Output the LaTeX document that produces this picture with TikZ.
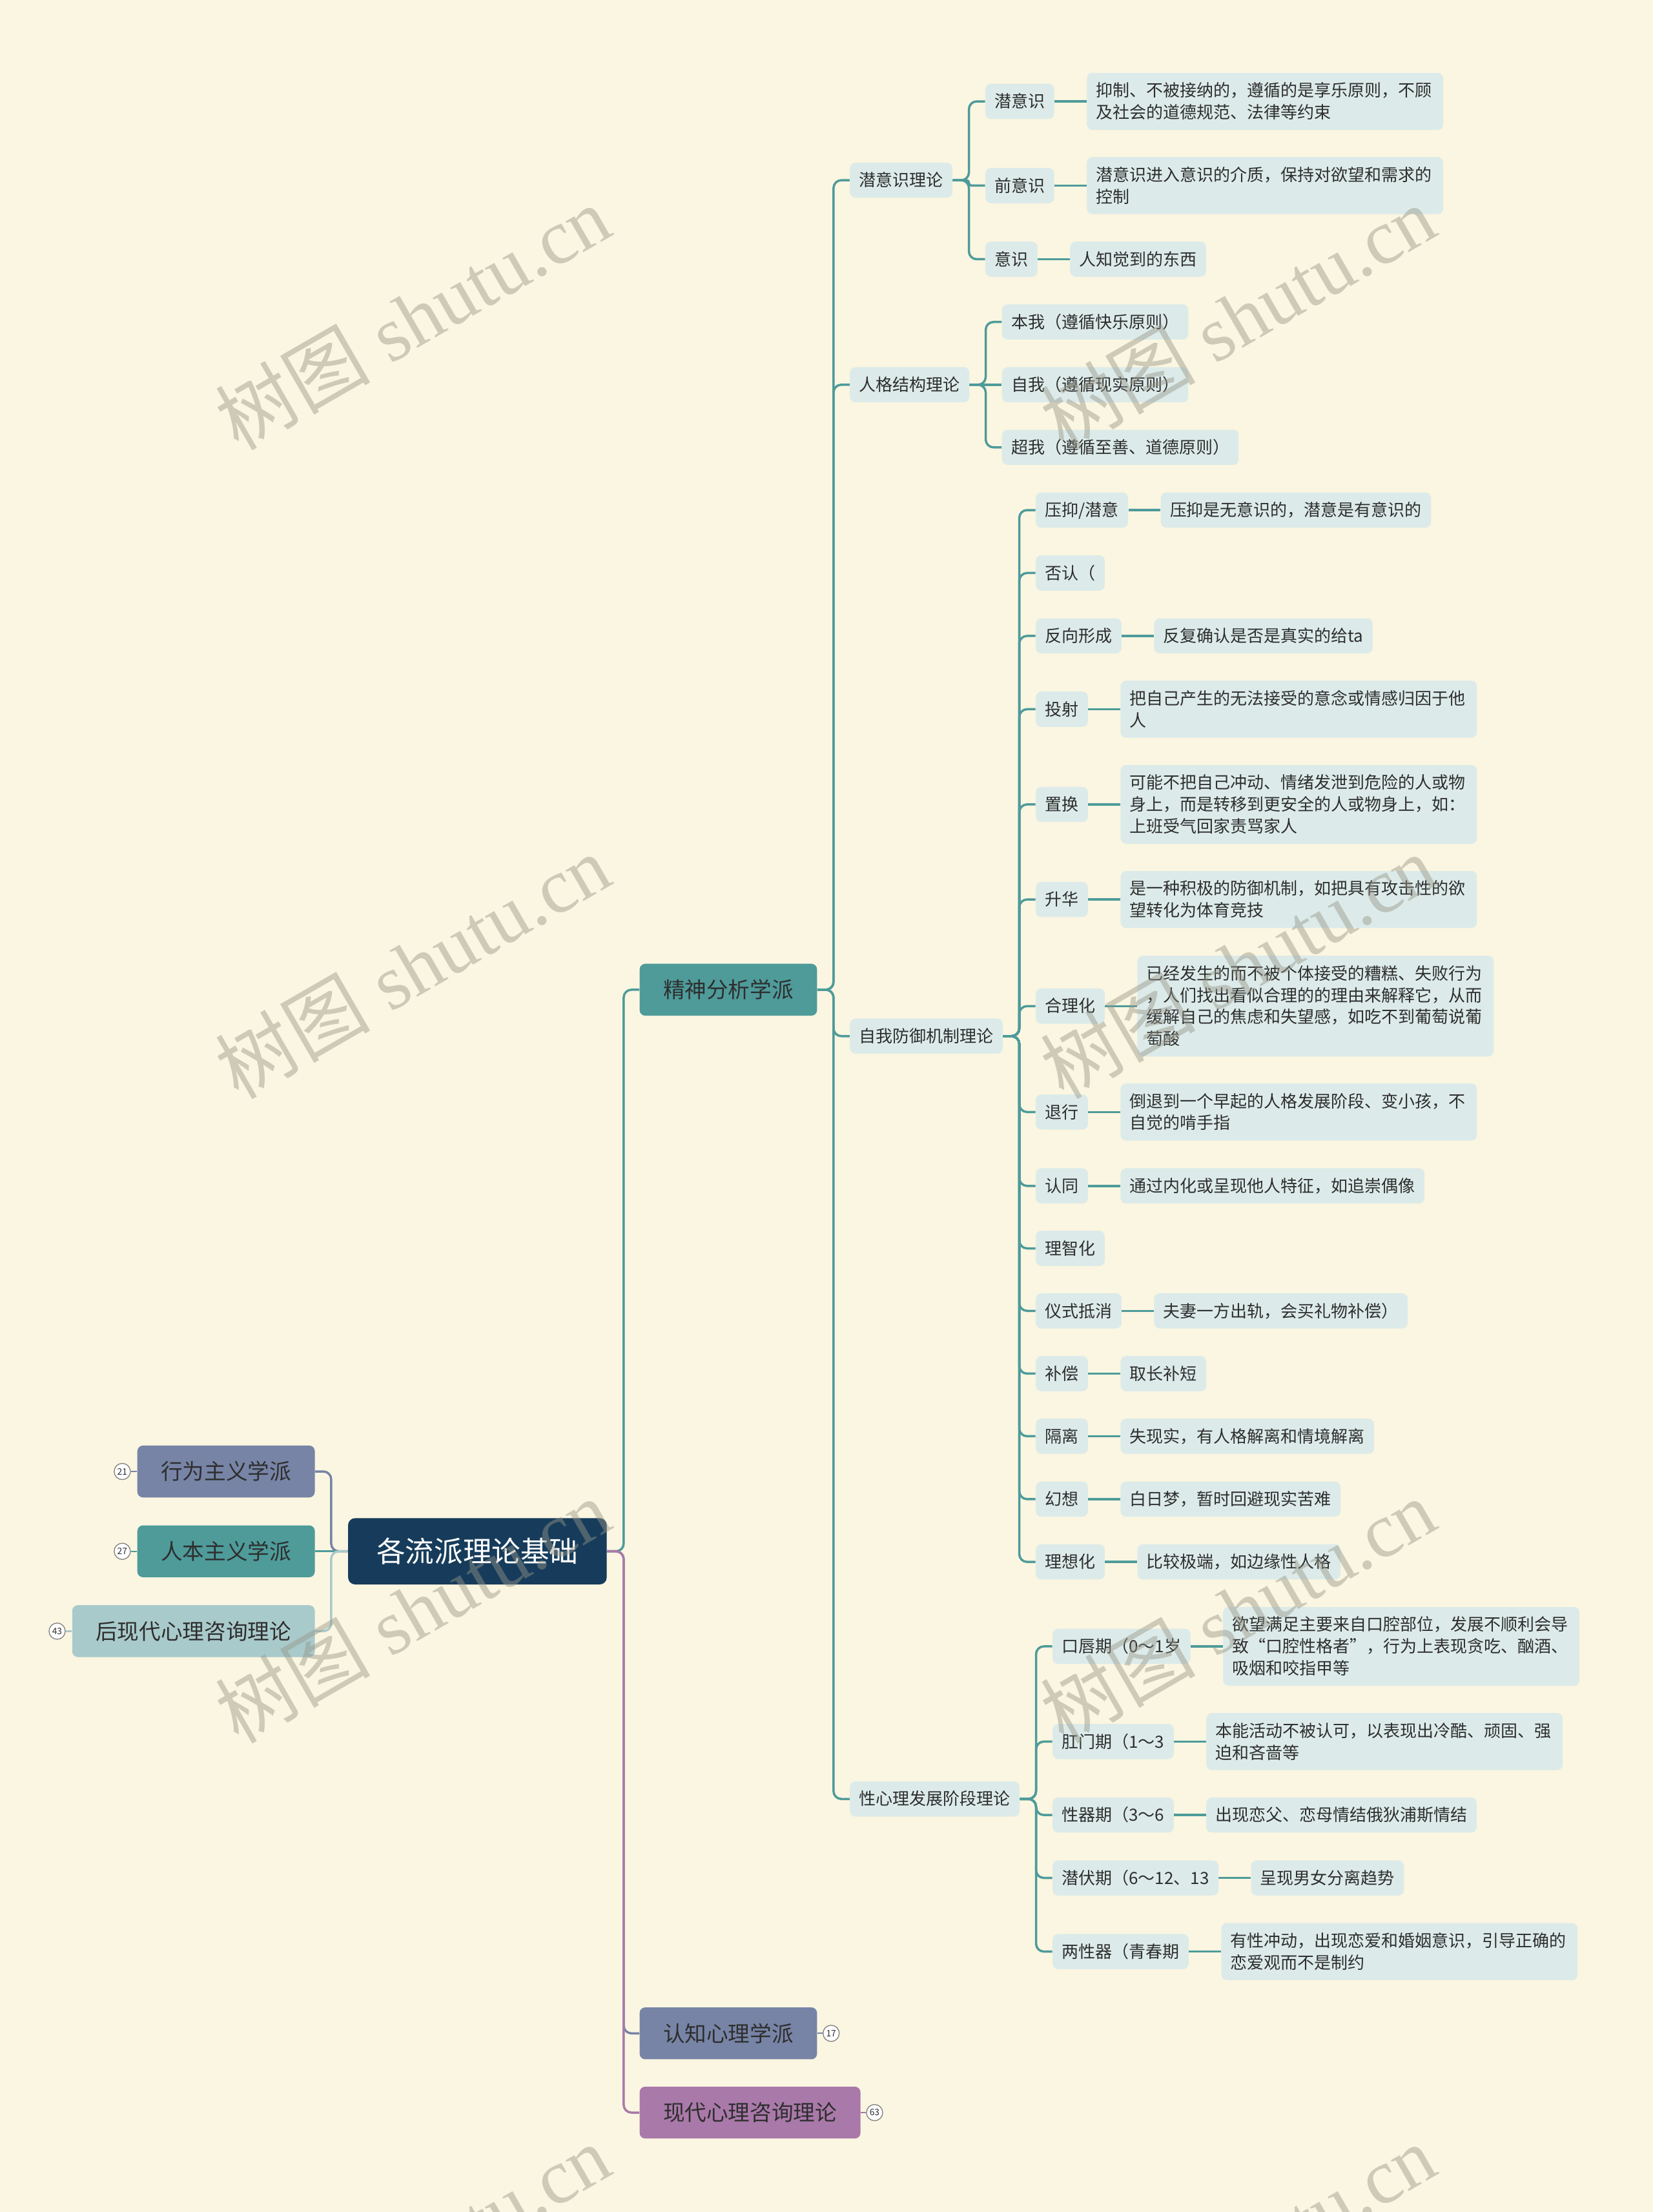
\documentclass[tikz,border=0pt]{standalone}
\usepackage{fontspec}
\setmainfont{Noto Sans CJK SC}
\newfontfamily\wmfont{Liberation Serif}
\usetikzlibrary{calc,positioning}
\definecolor{bgc}{HTML}{FBF6E1}
\definecolor{navy}{HTML}{173C5B}
\definecolor{tealc}{HTML}{4E9B9A}
\definecolor{slate}{HTML}{7784A6}
\definecolor{lteal}{HTML}{A9CACB}
\definecolor{purp}{HTML}{A979A9}
\definecolor{lb}{HTML}{DCEBE9}
\definecolor{txt}{HTML}{2E2E2E}
\definecolor{wmc}{RGB}{150,150,136}
\newcommand\sx{\rule[-1.5pt]{0pt}{11.9pt}}
\pgfdeclarelayer{back}\pgfdeclarelayer{lines}\pgfdeclarelayer{wm}
\pgfsetlayers{back,lines,main,wm}
\begin{document}
\begin{tikzpicture}[x=1pt,y=-1pt,
 base/.style={fill=lb, rounded corners=4pt, inner xsep=6.6pt, inner ysep=6.55pt, font=\fontsize{11.9}{15.5}\selectfont, text=txt, anchor=west},
 sub/.style={base, text height=10.4pt, text depth=1.5pt},
 multi/.style={base, text width=239.5pt, align=left},
 big/.style={rounded corners=4pt, inner xsep=16.7pt, inner ysep=0pt, minimum height=36.8pt, text height=12.9pt, text depth=1.2pt, font=\fontsize{15.4}{18}\selectfont, text=txt},
 rootbox/.style={fill=navy, rounded corners=5pt, inner xsep=20.3pt, inner ysep=0pt, minimum height=47pt, text height=17pt, text depth=1.6pt, font=\fontsize{20.4}{24}\selectfont, text=white},
 conn/.style={line width=1.6pt, rounded corners=5.5pt},
 thin/.style={line width=1.1pt},
 badge/.style={circle, draw=black!50, line width=0.6pt, fill=white, inner sep=0pt, minimum size=11.5pt, font=\fontsize{6.3}{6.3}\selectfont, text=txt},
 wmk/.style={rotate=30, anchor=base, text=wmc, text opacity=0.45, font=\fontsize{55}{60}\selectfont, inner sep=0pt}]

\begin{pgfonlayer}{back}
\fill[bgc] (0,0) rectangle (1172,1568.5);
\end{pgfonlayer}
\useasboundingbox (0,0) rectangle (1172,1568.5);

% root
\node[rootbox] (R) at (338.5,1100) {各流派理论基础};

% left branches
\node[big, fill=slate, anchor=east] (B1) at (223.4,1043.4) {行为主义学派};
\node[big, fill=tealc, anchor=east] (B2) at (223.4,1100) {人本主义学派};
\node[big, fill=lteal, anchor=east] (B3) at (223.4,1156.6) {后现代心理咨询理论};
\node[badge] (n21) at ($(B1.west)+(-10.5,0)$) {21};
\node[badge] (n27) at ($(B2.west)+(-10.5,0)$) {27};
\node[badge] (n43) at ($(B3.west)+(-10.5,0)$) {43};

% right level 1
\node[big, fill=tealc, anchor=west] (P) at (453.3,701.8) {精神分析学派};
\node[big, fill=slate, anchor=west] (C) at (453.3,1441.8) {认知心理学派};
\node[big, fill=purp, anchor=west] (M) at (453.3,1498) {现代心理咨询理论};
\node[badge] (n17) at ($(C.east)+(9.8,0)$) {17};
\node[badge] (n63) at ($(M.east)+(9.8,0)$) {63};

% level 2
\node[sub] (P1) at (602.4,127.8) {潜意识理论};
\node[sub] (P2) at (602.4,272.8) {人格结构理论};
\node[sub] (P3) at (602.4,734.7) {自我防御机制理论};
\node[sub] (P4) at (602.4,1275.6) {性心理发展阶段理论};

% P1 children
\node[sub] (a1) at (698.4,71.9) {潜意识};
\node[multi, right=22.7pt of a1] (a1d) {\sx 抑制、不被接纳的，遵循的是享乐原则，不顾\\\sx 及社会的道德规范、法律等约束};
\node[sub] (a2) at (698.4,131.6) {前意识};
\node[multi, right=22.7pt of a2] (a2d) {\sx 潜意识进入意识的介质，保持对欲望和需求的\\\sx 控制};
\node[sub] (a3) at (698.4,183.8) {意识};
\node[sub, right=22.7pt of a3] (a3d) {人知觉到的东西};

% P2 children
\node[sub] (b1) at (710.2,228.3) {本我（遵循快乐原则）};
\node[sub] (b2) at (710.2,272.8) {自我（遵循现实原则）};
\node[sub] (b3) at (710.2,317.2) {超我（遵循至善、道德原则）};

% P3 children
\node[sub] (c1) at (734.2,361.7) {压抑/潜意};
\node[sub, right=22.7pt of c1] (c1d) {压抑是无意识的，潜意是有意识的};
\node[sub] (c2) at (734.2,406.3) {否认（};
\node[sub] (c3) at (734.2,450.9) {反向形成};
\node[sub, right=22.7pt of c3] (c3d) {反复确认是否是真实的给ta};
\node[sub] (c4) at (734.2,502.9) {投射};
\node[multi, right=22.7pt of c4] (c4d) {\sx 把自己产生的无法接受的意念或情感归因于他\\\sx 人};
\node[sub] (c5) at (734.2,570.4) {置换};
\node[multi, right=22.7pt of c5] (c5d) {\sx 可能不把自己冲动、情绪发泄到危险的人或物\\\sx 身上，而是转移到更安全的人或物身上，如：\\\sx 上班受气回家责骂家人};
\node[sub] (c6) at (734.2,637.8) {升华};
\node[multi, right=22.7pt of c6] (c6d) {\sx 是一种积极的防御机制，如把具有攻击性的欲\\\sx 望转化为体育竞技};
\node[sub] (c7) at (734.2,713.4) {合理化};
\node[multi, right=22.7pt of c7] (c7d) {\sx 已经发生的而不被个体接受的糟糕、失败行为\\\sx ，人们找出看似合理的的理由来解释它，从而\\\sx 缓解自己的焦虑和失望感，如吃不到葡萄说葡\\\sx 萄酸};
\node[sub] (c8) at (734.2,788.5) {退行};
\node[multi, right=22.7pt of c8] (c8d) {\sx 倒退到一个早起的人格发展阶段、变小孩，不\\\sx 自觉的啃手指};
\node[sub] (c9) at (734.2,840.9) {认同};
\node[sub, right=22.7pt of c9] (c9d) {通过内化或呈现他人特征，如追崇偶像};
\node[sub] (c10) at (734.2,885.2) {理智化};
\node[sub] (c11) at (734.2,929.5) {仪式抵消};
\node[sub, right=22.7pt of c11] (c11d) {夫妻一方出轨，会买礼物补偿）};
\node[sub] (c12) at (734.2,974) {补偿};
\node[sub, right=22.7pt of c12] (c12d) {取长补短};
\node[sub] (c13) at (734.2,1018.4) {隔离};
\node[sub, right=22.7pt of c13] (c13d) {失现实，有人格解离和情境解离};
\node[sub] (c14) at (734.2,1063) {幻想};
\node[sub, right=22.7pt of c14] (c14d) {白日梦，暂时回避现实苦难};
\node[sub] (c15) at (734.2,1107.5) {理想化};
\node[sub, right=22.7pt of c15] (c15d) {比较极端，如边缘性人格};

% P4 children
\node[sub] (d1) at (746.1,1167.4) {口唇期（0～1岁};
\node[multi, right=22.7pt of d1] (d1d) {\sx 欲望满足主要来自口腔部位，发展不顺利会导\\\sx 致“口腔性格者”，行为上表现贪吃、酗酒、\\\sx 吸烟和咬指甲等};
\node[sub] (d2) at (746.1,1234.9) {肛门期（1～3};
\node[multi, right=22.7pt of d2] (d2d) {\sx 本能活动不被认可，以表现出冷酷、顽固、强\\\sx 迫和吝啬等};
\node[sub] (d3) at (746.1,1287) {性器期（3～6};
\node[sub, right=22.7pt of d3] (d3d) {出现恋父、恋母情结俄狄浦斯情结};
\node[sub] (d4) at (746.1,1331.6) {潜伏期（6～12、13};
\node[sub, right=22.7pt of d4] (d4d) {呈现男女分离趋势};
\node[sub] (d5) at (746.1,1383.8) {两性器（青春期};
\node[multi, right=22.7pt of d5] (d5d) {\sx 有性冲动，出现恋爱和婚姻意识，引导正确的\\\sx 恋爱观而不是制约};

\begin{pgfonlayer}{lines}
% left side
\draw[conn,slate] (R.west) -- ++(-11.8,0) |- (B1.east);
\draw[conn,tealc] (R.west) -- (B2.east);
\draw[conn,lteal] (R.west) -- ++(-11.8,0) |- (B3.east);
\draw[thin,slate] (n21) -- (B1.west);
\draw[thin,tealc] (n27) -- (B2.west);
\draw[thin,lteal] (n43) -- (B3.west);
% right side
\draw[conn,tealc] (R.east) -- ++(11.8,0) |- (P.west);
\draw[conn,slate] (R.east) -- ++(11.8,0) |- (C.west);
\draw[conn,purp] (R.east) -- ++(11.8,0) |- (M.west);
\draw[thin,slate] (C.east) -- (n17);
\draw[thin,purp] (M.east) -- (n63);
% level 2
\begin{scope}[tealc]
\foreach \k in {P1,P2,P3,P4} \draw[conn] (P.east) -- ++(11.5,0) |- (\k.west);
\draw[conn] (P1.east) -- ++(11.5,0) |- (a1.west);
\draw[conn,rounded corners=1.8pt] (P1.east) -- ++(11.5,0) |- (a2.west);
\draw[conn] (P1.east) -- ++(11.5,0) |- (a3.west);
\draw[conn] (a1.east) -- (a1d.west);
\draw[conn] (a2.east) -- (a2d.west);
\draw[conn] (a3.east) -- (a3d.west);
\draw[conn] (P2.east) -- ++(11.5,0) |- (b1.west);
\draw[conn] (P2.east) -- (b2.west);
\draw[conn] (P2.east) -- ++(11.5,0) |- (b3.west);
\foreach \k in {c1,c2,c3,c4,c5,c6,c7,c8,c9,c10,c11,c12,c13,c14,c15}
  \draw[conn] (P3.east) -- ++(11.5,0) |- (\k.west);
\foreach \k in {c1,c3,c4,c5,c6,c7,c8,c9,c11,c12,c13,c14,c15}
  \draw[conn] (\k.east) -- (\k d.west);
\foreach \k in {d1,d2,d3,d4,d5}
  {\draw[conn] (P4.east) -- ++(11.5,0) |- (\k.west);
   \draw[conn] (\k.east) -- (\k d.west);}
\end{scope}
\end{pgfonlayer}

% watermark
\begin{pgfonlayer}{wm}
\foreach \wx/\wy in {303/243, 888/243, 303/703, 888/703, 303/1160, 888/1160, 303/1618, 888/1618}
  \node[wmk] at (\wx,\wy) {树图\wmfont\ shutu.cn};
\end{pgfonlayer}
\end{tikzpicture}
\end{document}
